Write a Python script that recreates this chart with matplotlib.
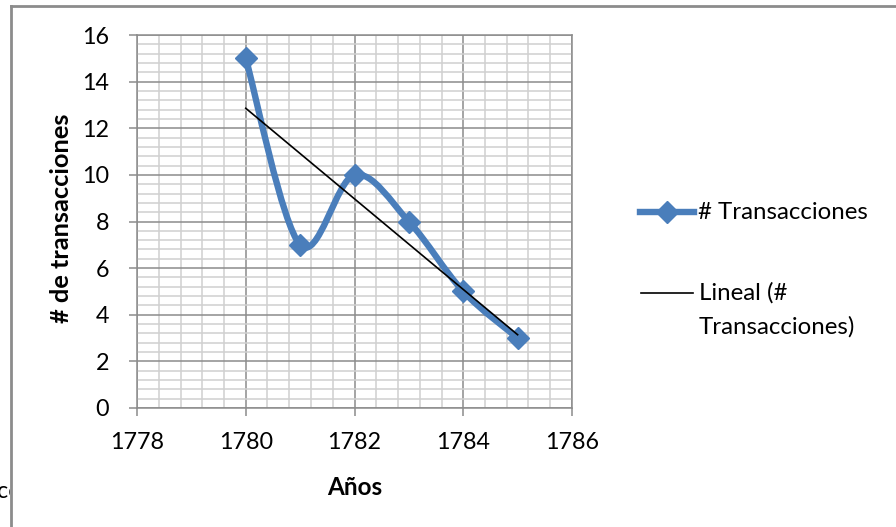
import numpy as np
import matplotlib
matplotlib.use("Agg")
import matplotlib.pyplot as plt
from matplotlib.path import Path
from matplotlib.patches import PathPatch
from matplotlib.lines import Line2D
from matplotlib.ticker import MultipleLocator
from matplotlib.transforms import Bbox, TransformedBbox

years = [1780, 1781, 1782, 1783, 1784, 1785]
transacciones = [15, 7, 10, 8, 5, 3]

series_label = "# Transacciones"
trend_label = ["Lineal (#", "Transacciones)"]
x_label = "Años"
y_label = "# de transacciones"

blue = "#4A7EBB"
grid_major = "#8C8C8C"
grid_minor = "#D0D0D0"
font_size = 16.8
title_size = 18.3
legend_size = 17.3

plt.rcParams["font.family"] = ["Lato", "DejaVu Sans"]

W, H = 896, 527
fig = plt.figure(figsize=(W / 100, H / 100), dpi=100)


def fx(px):
    return px / W


def fy(py):
    return 1 - py / H


ax = fig.add_axes([fx(137), fy(408), fx(572) - fx(137), fy(35) - fy(408)])
ax.set_xlim(1778, 1786)
ax.set_ylim(0, 16)

# grid: major every 2, minor every 0.4 on both axes
ax.xaxis.set_major_locator(MultipleLocator(2))
ax.yaxis.set_major_locator(MultipleLocator(2))
ax.xaxis.set_minor_locator(MultipleLocator(0.4))
ax.yaxis.set_minor_locator(MultipleLocator(0.4))
ax.grid(which="major", color=grid_major, lw=1.1, zorder=0)
ax.grid(which="minor", color=grid_minor, lw=1.1, zorder=0)
ax.set_axisbelow(True)
for s in ax.spines.values():
    s.set_color(grid_major)
    s.set_linewidth(1.1)
ax.tick_params(which="major", direction="out", length=6, width=1.1,
               color=grid_major, labelsize=font_size, pad=11.5)
ax.tick_params(which="minor", length=0)
ax.tick_params(axis="y", pad=14)

# smoothed series: cubic bezier through the points (Catmull-Rom style)
xs = np.array(years, dtype=float)
ys = np.array(transacciones, dtype=float)
pts = np.column_stack([xs, ys])
n = len(pts)
verts = [pts[0]]
codes = [Path.MOVETO]
for i in range(n - 1):
    p0 = pts[max(i - 1, 0)]
    p1 = pts[i]
    p2 = pts[i + 1]
    p3 = pts[min(i + 2, n - 1)]
    c1 = p1 + (p2 - p0) / 6
    c2 = p2 - (p3 - p1) / 6
    verts += [c1, c2, p2]
    codes += [Path.CURVE4] * 3
ax.add_patch(PathPatch(Path(verts, codes), fill=False, edgecolor=blue,
                       lw=4.6, capstyle="round", joinstyle="round", zorder=3))
ax.plot(xs, ys, ls="none", marker="D", ms=11, color=blue, mec=blue, zorder=4)

# linear trendline
slope, intercept = np.polyfit(xs, ys, 1)
ax.plot(xs[[0, -1]], slope * xs[[0, -1]] + intercept, color="black", lw=1.2, zorder=5)

ax.set_xlabel(x_label, fontsize=17.5, fontweight="bold")
ax.xaxis.set_label_coords(0.5, -0.181)
ax.set_ylabel(y_label, fontsize=title_size, fontweight="bold")
ax.yaxis.set_label_coords(-0.147, 0.51)

# legend drawn by hand to the right of the plot area
fig.add_artist(Line2D([fx(640), fx(694)], [fy(212), fy(212)], color=blue, lw=4.6))
fig.add_artist(Line2D([fx(667)], [fy(212)], marker="D", ms=11, color=blue, ls="none"))
fig.text(fx(698), fy(212), series_label, fontsize=legend_size, va="center", ha="left")
fig.add_artist(Line2D([fx(641), fx(693)], [fy(293), fy(293)], color="black", lw=1.2))
fig.text(fx(699), fy(293), trend_label[0], fontsize=legend_size, va="center", ha="left")
fig.text(fx(699), fy(327), trend_label[1], fontsize=legend_size, va="center", ha="left")

# chart frame
fig.add_artist(Line2D([fx(11), fx(11)], [fy(6), 0], color="#8C8C8C", lw=2))
fig.add_artist(Line2D([fx(11), 1], [fy(6), fy(6)], color="#8C8C8C", lw=2))

# text behind the chart, cut off by the frame
t = fig.text(fx(-3), fy(492), "co", fontsize=font_size, va="center", ha="left")
t.set_clip_box(TransformedBbox(Bbox([[0, 0], [fx(10), 1]]), fig.transFigure))
t.set_clip_on(True)

fig.savefig("out.png", dpi=100, facecolor="white")
